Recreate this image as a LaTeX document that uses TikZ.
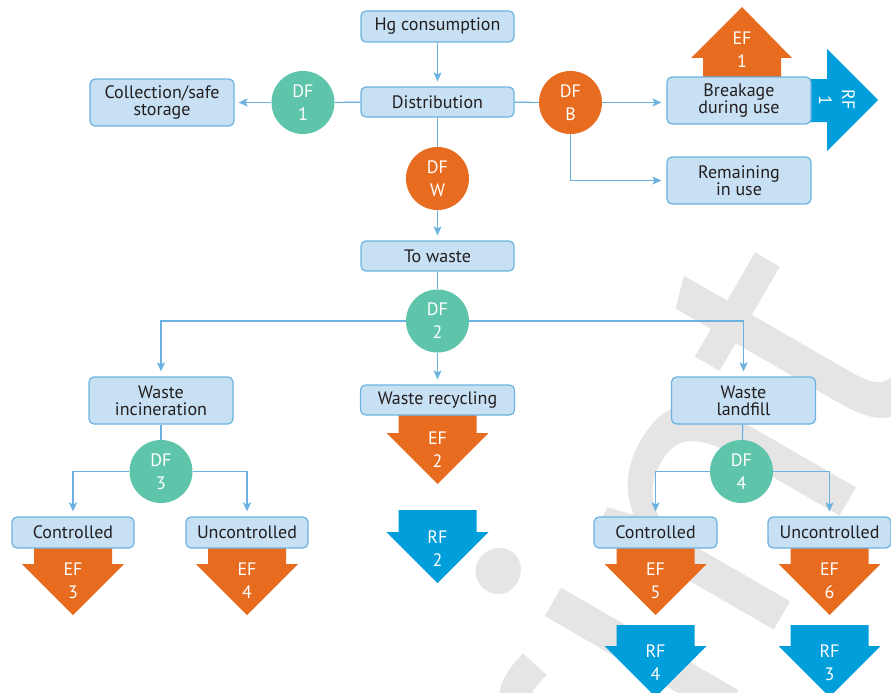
\documentclass[tikz,border=0pt]{standalone}
\usepackage{fontspec}
\setmainfont{PT Sans}
\usetikzlibrary{arrows.meta}
\definecolor{boxfill}{RGB}{199,224,243}
\definecolor{boxline}{RGB}{108,178,224}
\definecolor{connblue}{RGB}{108,178,224}
\definecolor{dfgreen}{RGB}{94,196,170}
\definecolor{dforange}{RGB}{232,108,31}
\definecolor{rfblue}{RGB}{0,158,219}
\definecolor{txtdark}{RGB}{35,31,32}
\definecolor{wmgray}{RGB}{229,229,229}
\tikzset{
  flowbox/.style={draw=boxline, fill=boxfill, line width=1.2pt, rounded corners=5pt,
    align=center, text=txtdark, font=\fontsize{18}{17}\selectfont, inner sep=0pt},
  dfcirc/.style={circle, minimum size=63pt, inner sep=0pt, text=white, align=center,
    font=\fontsize{18}{23}\selectfont},
  bigtext/.style={text=white, align=center, font=\fontsize{18}{23}\selectfont, inner sep=0pt},
  connline/.style={draw=connblue, line width=1.2pt},
  flow/.style={connline, -{Stealth[length=9pt,width=8pt,inset=2pt]}, shorten >=5pt},
}
\newcommand\downbig[6]{%
  \fill[#4] ({#1-39},#2) -- ({#1+39},#2) -- ({#1+39},#3) -- ({#1+51},#3) -- (#1,{#3+51})
    -- ({#1-51},#3) -- ({#1-39},#3) -- cycle;
  \node[bigtext] (#5) at (#1,{#3+17}) {#6};
}
\begin{document}
\begin{tikzpicture}[x=1pt,y=-1pt]
\useasboundingbox (0,0) rectangle (891,693);
% watermark
\begin{scope}
\clip (0,0) rectangle (891,693);
\node[rotate=60, text=wmgray, font=\fontsize{410}{410}\selectfont,
  anchor=base east, inner sep=0pt] (wmark) at (940,343) {print};
\end{scope}
% big arrows
\downbig{437.5}{405}{433}{dforange}{ef2}{EF\\2}
\downbig{437.5}{510}{532}{rfblue}{rf2}{RF\\2}
\downbig{73}{540}{564}{dforange}{ef3}{EF\\3}
\downbig{247}{540}{564}{dforange}{ef4}{EF\\4}
\downbig{655.5}{540}{564}{dforange}{ef5}{EF\\5}
\downbig{829.5}{540}{564}{dforange}{ef6}{EF\\6}
\downbig{655.5}{625}{646}{rfblue}{rf4}{RF\\4}
\downbig{829.5}{625}{646}{rfblue}{rf3}{RF\\3}
% EF1 up arrow
\fill[dforange] (703,95) -- (781,95) -- (781,58) -- (792,58) -- (742,7) -- (691,58) -- (703,58) -- cycle;
\node[bigtext] (ef1) at (742,50) {EF\\1};
% RF1 right arrow
\fill[rfblue] (790,79) -- (827,79) -- (827,49) -- (878,100) -- (827,151) -- (827,122) -- (790,122) -- cycle;
\node[bigtext, rotate=-90] (rf1) at (837,100) {RF\\1};
% boxes
\node[flowbox, minimum width=153pt, minimum height=31pt] (hg) at (437.5,26.5) {Hg consumption};
\node[flowbox, minimum width=153pt, minimum height=30pt] (dist) at (437.5,102) {Distribution};
\node[flowbox, minimum width=144pt, minimum height=47pt] (coll) at (162,102.5) {Collection/safe\\storage};
\node[flowbox, minimum width=144pt, minimum height=47pt] (brk) at (739,100.5) {Breakage\\during use};
\node[flowbox, minimum width=144pt, minimum height=47pt] (rem) at (739,180.5) {Remaining\\in use};
\node[flowbox, minimum width=153pt, minimum height=30pt] (tow) at (437.5,256) {To waste};
\node[flowbox, minimum width=144pt, minimum height=47pt] (inc) at (161,400.5) {Waste\\incineration};
\node[flowbox, minimum width=154pt, minimum height=30pt] (rec) at (437.5,400) {Waste recycling};
\node[flowbox, minimum width=144pt, minimum height=47pt] (land) at (743.5,400.5) {Waste\\landfill};
\node[flowbox, minimum width=122pt, minimum height=31pt] (c1) at (73,532.5) {Controlled};
\node[flowbox, minimum width=122pt, minimum height=31pt] (u1) at (247,532.5) {Uncontrolled};
\node[flowbox, minimum width=123pt, minimum height=31pt] (c2) at (655.5,532.5) {Controlled};
\node[flowbox, minimum width=123pt, minimum height=31pt] (u2) at (829.5,532.5) {Uncontrolled};
% circles
\node[dfcirc, fill=dfgreen] (df1) at (303,102.5) {DF\\1};
\node[dfcirc, fill=dforange] (dfb) at (570.5,102.5) {DF\\B};
\node[dfcirc, fill=dforange] (dfw) at (437.5,178.5) {DF\\W};
\node[dfcirc, fill=dfgreen] (df2) at (437.5,321) {DF\\2};
\node[dfcirc, fill=dfgreen] (df3) at (161,471.5) {DF\\3};
\node[dfcirc, fill=dfgreen] (df4) at (741.5,471.5) {DF\\4};
% connectors
\draw[flow] (hg) -- (dist);
\draw[connline] (dist) -- (df1);
\draw[flow, shorten >=4pt] (df1) -- (coll);
\draw[connline] (dist) -- (dfb);
\draw[flow] (dfb) -- (dfb -| brk.west);
\draw[flow] (dfb.south) |- (rem.west);
\draw[connline] (dist) -- (dfw);
\draw[flow] (dfw) -- (tow);
\draw[connline] (tow) -- (df2);
\draw[flow] (df2) -- (rec);
\draw[flow] (df2.west) -| (inc.north);
\draw[flow] (df2.east) -| (land.north);
\draw[connline] (inc) -- (df3);
\draw[flow] (df3.west) -| (c1.north);
\draw[flow] (df3.east) -| (u1.north);
\draw[connline] (land) -- (df4);
\draw[flow] (df4.west) -| (c2.north);
\draw[flow] (df4.east) -| (u2.north);
\end{tikzpicture}
\end{document}
